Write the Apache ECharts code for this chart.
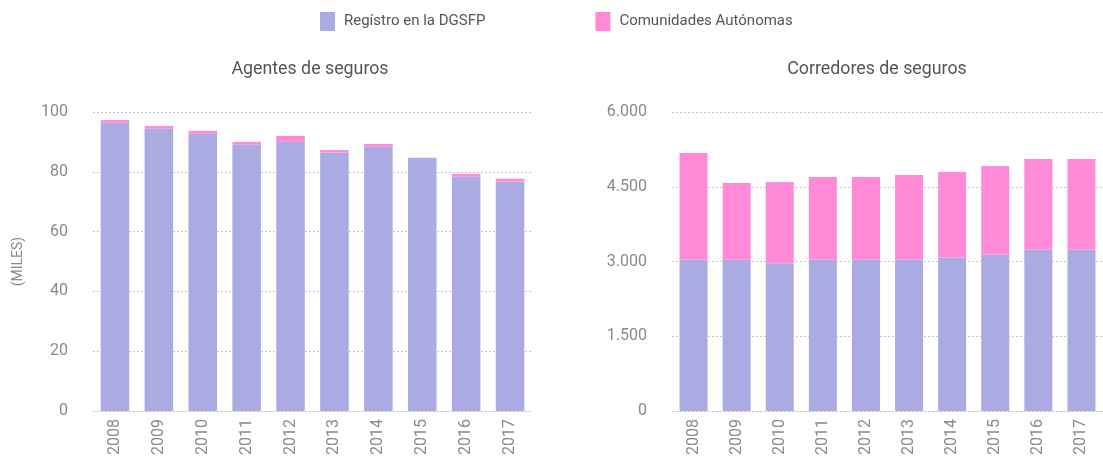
<!DOCTYPE html>
<html><head><meta charset="utf-8">
<script src="https://cdn.jsdelivr.net/npm/echarts@6/dist/echarts.min.js"></script>
<style>html,body{margin:0;padding:0;background:#fff}#c{width:1103px;height:458px}</style>
</head><body><div id="c"></div>
<script>
const years = ['2008','2009','2010','2011','2012','2013','2014','2015','2016','2017'];
const agentesDGSFP = [96.4, 94.4, 92.7, 89.1, 90.0, 86.4, 88.4, 84.7, 78.4, 76.7];
const agentesCCAA  = [0.9, 0.9, 1.0, 0.9, 2.0, 0.9, 0.9, 0.0, 0.9, 1.0];
const corredoresDGSFP = [3035, 3035, 2965, 3035, 3035, 3035, 3080, 3135, 3240, 3240];
const corredoresCCAA  = [2140, 1540, 1630, 1660, 1660, 1700, 1715, 1780, 1815, 1815];
const leftTicks = [0, 20, 40, 60, 80, 100];
const rightTicks = [0, 1500, 3000, 4500, 6000];
const seriesNames = ['Regístro en la DGSFP', 'Comunidades Autónomas'];
const titles = ['Agentes de seguros', 'Corredores de seguros'];

const BLUE = '#aaabe3', PINK = '#ff8ad8';
const FONT = 'Roboto';
const chart = echarts.init(document.getElementById('c'), null, {renderer: 'canvas'});
const fmt = v => String(v).replace(/\B(?=(\d{3})+(?!\d))/g, '.');
const gridLine = {show: true, lineStyle: {color: '#c8c8c8', type: [2, 2], width: 1}};
function xAx(i) {
  return {
    type: 'category', gridIndex: i, data: years,
    axisLine: {show: true, lineStyle: {color: '#c8c8c8', type: [2, 2], width: 1}},
    axisTick: {show: false},
    axisLabel: {rotate: 90, margin: 8, color: '#8a8a8a', fontSize: 16, fontFamily: FONT}
  };
}
function yAx(i, ticks, extra) {
  return Object.assign({
    type: 'value', gridIndex: i, min: ticks[0], max: ticks[ticks.length - 1],
    interval: ticks[1] - ticks[0],
    axisLine: {show: false}, axisTick: {show: false},
    splitLine: gridLine,
    axisLabel: {margin: 25, color: '#8a8a8a', fontSize: 16, fontFamily: FONT, formatter: fmt}
  }, extra || {});
}
const titleStyle = {fontSize: 17.8, fontWeight: 'normal', color: '#555', fontFamily: FONT};
const option = {
  backgroundColor: '#fff',
  animation: false,
  textStyle: {fontFamily: FONT},
  title: [
    {text: titles[0], left: 310, top: 61, textAlign: 'center', padding: 0, textStyle: titleStyle},
    {text: titles[1], left: 877, top: 61, textAlign: 'center', padding: 0, textStyle: titleStyle}
  ],
  legend: {
    data: seriesNames, left: 320, top: 12, padding: 0, itemWidth: 15, itemHeight: 19, itemGap: 110,
    icon: 'rect',
    textStyle: {fontSize: 15, color: '#555', fontFamily: FONT, padding: [0, 0, 0, 4]}
  },
  grid: [
    {left: 93, width: 439, top: 112, height: 302, containLabel: false},
    {left: 672, width: 439, top: 112, height: 302, containLabel: false}
  ],
  xAxis: [xAx(0), xAx(1)],
  yAxis: [
    yAx(0, leftTicks, {name: '(MILES)', nameLocation: 'middle', nameRotate: 90, nameGap: 68,
      nameTextStyle: {color: '#8a8a8a', fontSize: 14, fontFamily: FONT}}),
    yAx(1, rightTicks)
  ],
  series: [
    {name: seriesNames[0], type: 'bar', stack: 'a', xAxisIndex: 0, yAxisIndex: 0, data: agentesDGSFP, barWidth: '65%', itemStyle: {color: BLUE}},
    {name: seriesNames[1], type: 'bar', stack: 'a', xAxisIndex: 0, yAxisIndex: 0, data: agentesCCAA, barWidth: '65%', itemStyle: {color: PINK}},
    {name: seriesNames[0], type: 'bar', stack: 'b', xAxisIndex: 1, yAxisIndex: 1, data: corredoresDGSFP, barWidth: '65%', itemStyle: {color: BLUE}},
    {name: seriesNames[1], type: 'bar', stack: 'b', xAxisIndex: 1, yAxisIndex: 1, data: corredoresCCAA, barWidth: '65%', itemStyle: {color: PINK}}
  ]
};
chart.setOption(option);
</script></body></html>
